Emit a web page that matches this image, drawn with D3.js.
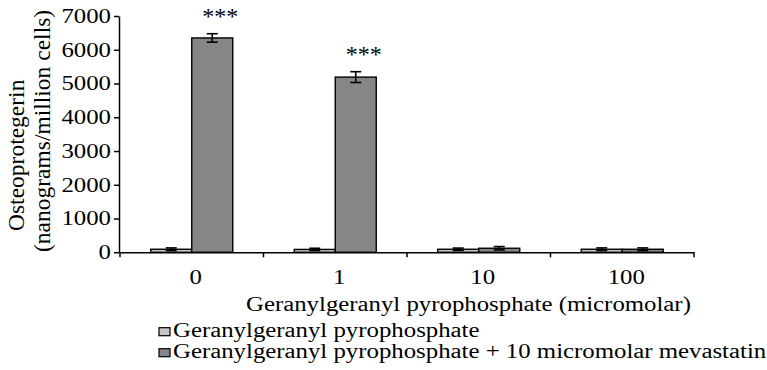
<!DOCTYPE html>
<html>
<head>
<meta charset="utf-8">
<script src="https://cdn.jsdelivr.net/npm/d3@7"></script>
<style>
  html, body { margin: 0; padding: 0; background: #fff; }
  svg { display: block; }
</style>
</head>
<body>
<div id="chart"></div>
<script>
// ---- data ----
const categories = ["0", "1", "10", "100"];
const seriesNames = [
  "Geranylgeranyl pyrophosphate",
  "Geranylgeranyl pyrophosphate + 10 micromolar mevastatin"
];
const ggppValues = [90, 85, 90, 90];
const ggppErrors = [40, 35, 35, 40];
const mevValues = [6350, 5190, 120, 90];
const mevErrors = [125, 160, 50, 40];
const mevSignificance = ["***", "***", "", ""];
const yTicks = [0, 1000, 2000, 3000, 4000, 5000, 6000, 7000];
const xTitle = "Geranylgeranyl pyrophosphate (micromolar)";
const yTitleLines = ["Osteoprotegerin", "(nanograms/million cells)"];

// ---- layout ----
const W = 767, H = 370;
const colors = ["#c6c6c6", "#868686"];
const STRETCH = 1.24;
const FONT = '"Liberation Serif"';

const svg = d3.select("#chart").append("svg").attr("width", W).attr("height", H)
  .style("font-family", FONT);

const x = d3.scaleBand().domain(categories).range([120, 694]).paddingInner(0).paddingOuter(0);
const x1 = d3.scaleBand().domain([0, 1]).range([0, x.bandwidth()]).paddingInner(0).paddingOuter(0.75);
const y = d3.scaleLinear().domain([0, 7000]).range([252.3, 16]);

function font(sel, size) {
  sel.style("font-family", FONT).style("font-size", size + "px").attr("fill", "#000");
}
function stretch(sel) {
  sel.each(function () {
    const len = this.getComputedTextLength();
    d3.select(this).attr("textLength", (len * STRETCH).toFixed(1)).attr("lengthAdjust", "spacingAndGlyphs");
  });
}

const rows = categories.map((c, i) => ({
  cat: c,
  vals: [
    { s: 0, v: ggppValues[i], e: ggppErrors[i] },
    { s: 1, v: mevValues[i], e: mevErrors[i], sig: mevSignificance[i] }
  ]
}));

// y title (first)
svg.append("text").attr("transform", "translate(24,231) rotate(-90)").call(font, 23.5).text(yTitleLines[0]);
svg.append("text").attr("transform", "translate(50,252) rotate(-90)").call(font, 23.5).text(yTitleLines[1]);

// bars
const g = svg.append("g");
const groups = g.selectAll("g.grp").data(rows).join("g").attr("class", "grp")
  .attr("transform", d => `translate(${x(d.cat)},0)`);

groups.selectAll("rect").data(d => d.vals).join("rect")
  .attr("x", d => x1(d.s))
  .attr("y", d => y(d.v))
  .attr("width", x1.bandwidth())
  .attr("height", d => y(0) - y(d.v))
  .attr("fill", d => colors[d.s])
  .attr("stroke", "#000")
  .attr("stroke-width", 1.4);

// error bars
const cap = 5.5;
const eb = groups.selectAll("g.err").data(d => d.vals).join("g").attr("class", "err")
  .attr("stroke", "#000").attr("stroke-width", 1.6);
const cx = d => x1(d.s) + x1.bandwidth() / 2;
eb.append("line").attr("x1", cx).attr("x2", cx)
  .attr("y1", d => y(d.v + d.e)).attr("y2", d => y(d.v - d.e));
eb.append("line").attr("x1", d => cx(d) - cap).attr("x2", d => cx(d) + cap)
  .attr("y1", d => y(d.v + d.e)).attr("y2", d => y(d.v + d.e));
eb.append("line").attr("x1", d => cx(d) - cap).attr("x2", d => cx(d) + cap)
  .attr("y1", d => y(d.v - d.e)).attr("y2", d => y(d.v - d.e));

// significance stars
groups.selectAll("text.sig").data(d => d.vals.filter(v => v.sig)).join("text").attr("class", "sig")
  .attr("x", d => cx(d) + 8)
  .attr("y", d => y(d.v + d.e) - 10)
  .attr("text-anchor", "middle")
  .call(font, 24)
  .text(d => d.sig);

// y axis
const yAxis = svg.append("g").attr("transform", "translate(119,0)")
  .call(d3.axisLeft(y).tickValues(yTicks).tickSize(5).tickSizeOuter(0).tickPadding(3).tickFormat(d3.format("d")));
yAxis.attr("font-family", null).attr("font-size", null);
yAxis.select(".domain").attr("stroke-width", 1.5);
yAxis.selectAll(".tick line").attr("stroke-width", 1.5);
yAxis.selectAll("text").call(font, 20).call(stretch);

// x axis
const xAxis = svg.append("g").attr("transform", `translate(0,${y(0)})`)
  .call(d3.axisBottom(x).tickSize(0).tickSizeOuter(0).tickPadding(18));
xAxis.attr("font-family", null).attr("font-size", null);
xAxis.select(".domain").attr("stroke-width", 1.5);
xAxis.selectAll("text").call(font, 20).attr("dx", 4).call(stretch);
xAxis.selectAll("line.bound").data(categories.concat(["end"])).join("line").attr("class", "bound")
  .attr("x1", (d, i) => 120 + i * x.step()).attr("x2", (d, i) => 120 + i * x.step())
  .attr("y1", 0).attr("y2", 5).attr("stroke", "#000").attr("stroke-width", 1.5);

// x title
svg.append("text").attr("x", 246).attr("y", 311).call(font, 20).text(xTitle).call(stretch);

// legend
const leg = svg.append("g");
seriesNames.forEach((name, i) => {
  const by = 336.7 + i * 21;
  leg.append("rect").attr("x", 159).attr("y", by - 9).attr("width", 11).attr("height", 8)
    .attr("fill", colors[i]).attr("stroke", "#000").attr("stroke-width", 1.2);
  leg.append("text").attr("x", 173).attr("y", by).call(font, 20).text(name).call(stretch);
});
</script>
</body>
</html>
